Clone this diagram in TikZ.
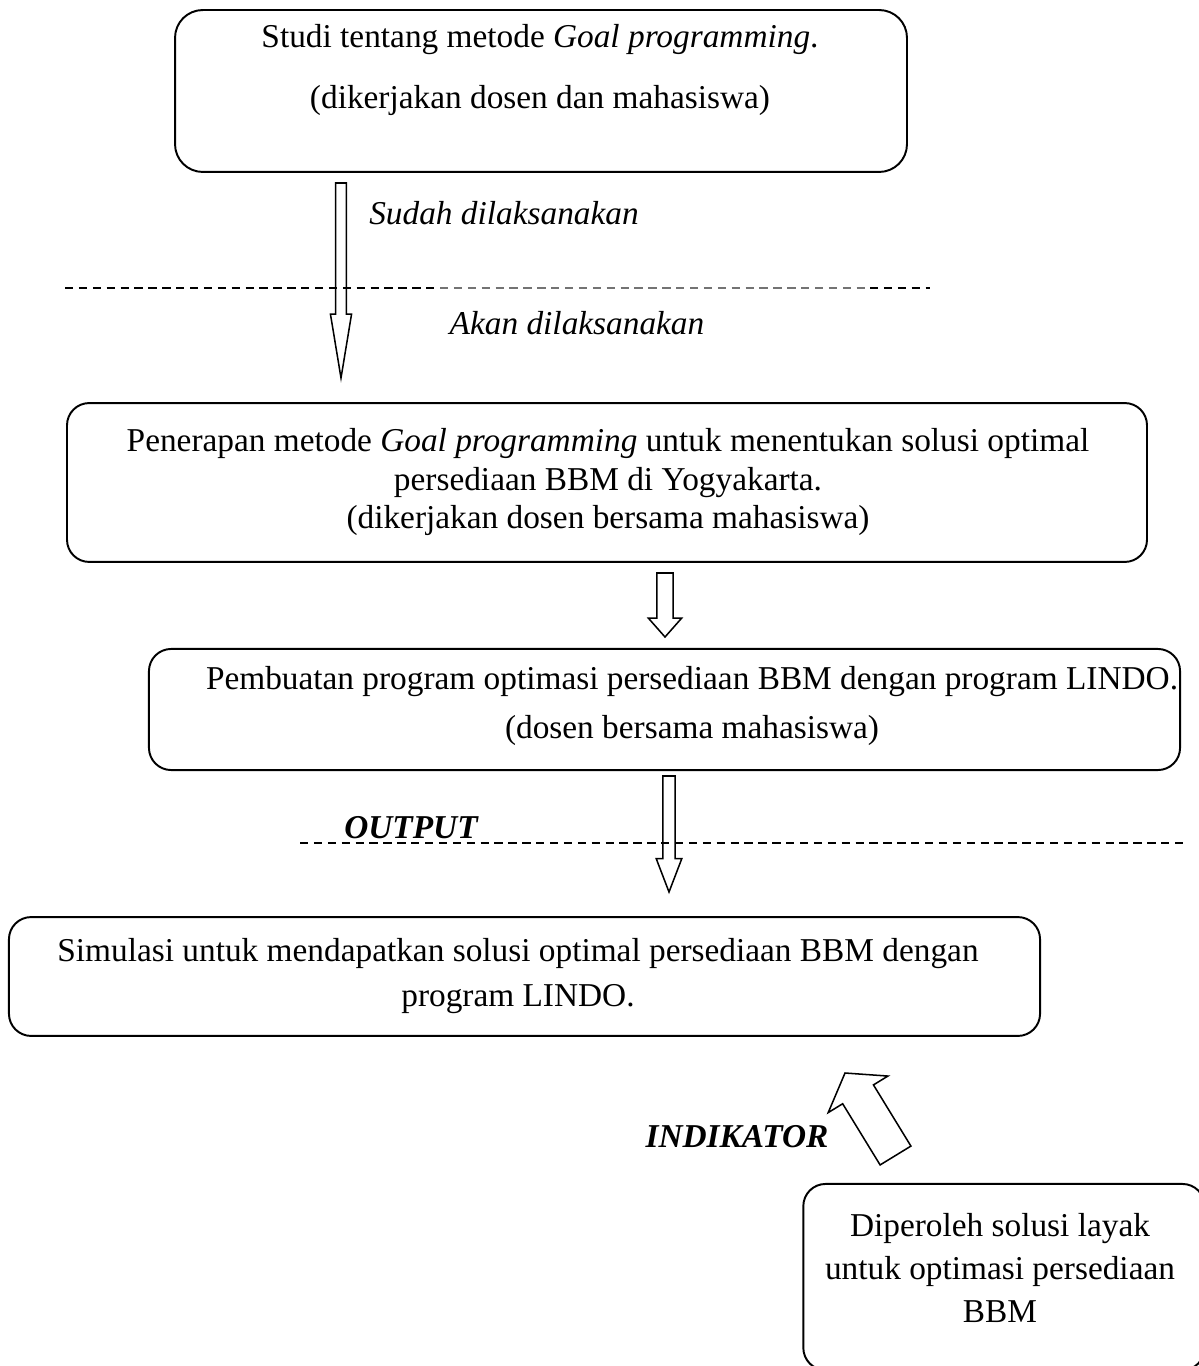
\documentclass[tikz,border=0pt]{standalone}
\usepackage{fontspec}
\setmainfont{Liberation Serif}
\usetikzlibrary{calc}

% hollow block arrow: tail, tip, half shaft, half head, head length
\newcommand{\hollowarrow}[5]{%
  \coordinate (hb) at ($(#2)!#5!(#1)$);
  \draw[blockarrow] ($(#1)!#3!90:(#2)$) -- ($(hb)!#3!90:(#2)$) -- ($(hb)!#4!90:(#2)$)
    -- (#2) -- ($(hb)!#4!-90:(#2)$) -- ($(hb)!#3!-90:(#2)$) -- ($(#1)!#3!-90:(#2)$) -- cycle;
}

\begin{document}
\begin{tikzpicture}[
    x=0.36pt, y=-0.36pt,
    box/.style={draw, rounded corners=8pt, line width=0.7pt, inner sep=0pt},
    txt/.style={align=center, inner sep=0pt, font={\fontsize{12pt}{#1}\selectfont}},
    note/.style={inner sep=0pt, font={\fontsize{12pt}{14pt}\selectfont\itshape}},
    bnote/.style={inner sep=0pt, font={\fontsize{12pt}{14pt}\selectfont\bfseries\itshape}},
    blockarrow/.style={draw, line width=0.55pt, line join=miter},
    sepline/.style={line width=0.6pt, dash pattern=on 3pt off 2pt}
    ]

    \useasboundingbox (0,0) rectangle (1198,1366);

    % boxes:
    \node (study) at (541,91) [box, rounded corners=10pt, minimum width=263.5pt, minimum height=58.3pt] {};
    \node (studytxt) at (540,70) [txt=22.3pt] {Studi tentang metode \textit{Goal programming}.\\(dikerjakan dosen dan mahasiswa)};

    \node (apply) at (607,482.5) [box, minimum width=388.8pt, minimum height=57.2pt] {};
    \node (applytxt) at (608,482) [txt=14pt] {Penerapan metode \textit{Goal programming} untuk menentukan solusi optimal\\persediaan BBM di Yogyakarta.\\(dikerjakan dosen bersama mahasiswa)};

    \node (lindo) at (664.5,709.5) [box, minimum width=371.2pt, minimum height=43.6pt] {};
    \node (lindotxt) at (692,706) [txt=17.6pt] {Pembuatan program optimasi persediaan BBM dengan program LINDO.\\(dosen bersama mahasiswa)};

    \node (sim) at (524.5,976.5) [box, minimum width=371.2pt, minimum height=42.8pt] {};
    \node (simtxt) at (518,976) [txt=16.2pt] {Simulasi untuk mendapatkan solusi optimal persediaan BBM dengan\\program LINDO.};

    \node (result) at (1004,1277) [box, minimum width=144.5pt, minimum height=67pt] {};
    \node (resulttxt) at (1000,1268) [txt=15.5pt] {Diperoleh solusi layak\\untuk optimasi persediaan\\BBM};

    % separator lines:
    \draw[sepline] (65,288) -- (440,288);
    \draw[sepline, black!55, line width=0.45pt] (440,288) -- (870,288);
    \draw[sepline] (870,288) -- (930,288);
    \draw[sepline] (300,843) -- (1185,843);

    % labels:
    \node (done) at (504,213) [note] {Sudah dilaksanakan};
    \node (todo) at (577,323) [note] {Akan dilaksanakan};
    \node (output) at (411,828) [bnote] {OUTPUT};
    \node (indicator) at (737,1137) [bnote] {INDIKATOR};

    % arrows:
    \coordinate (a1s) at (341,183);
    \coordinate (a1e) at (341,378);
    \hollowarrow{a1s}{a1e}{1.9pt}{3.8pt}{23pt}

    \coordinate (a2s) at (665,573);
    \coordinate (a2e) at (665,637);
    \hollowarrow{a2s}{a2e}{2.9pt}{6pt}{6.8pt}

    \coordinate (a3s) at (669,776);
    \coordinate (a3e) at (669,892);
    \hollowarrow{a3s}{a3e}{2.2pt}{4.6pt}{12pt}

    \coordinate (a4s) at (895.5,1155.5);
    \coordinate (a4e) at (845,1073);
    \hollowarrow{a4s}{a4e}{6.5pt}{12.6pt}{9pt}

  \end{tikzpicture}
\end{document}
